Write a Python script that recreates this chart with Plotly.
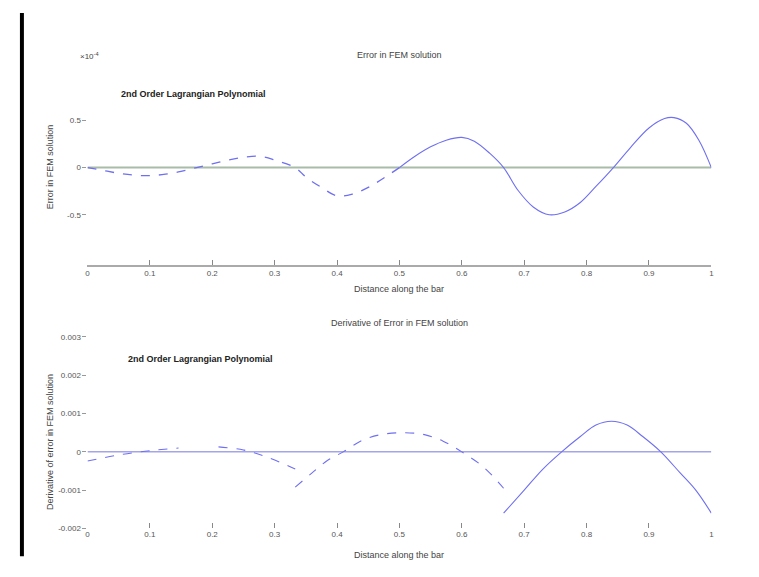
import plotly.graph_objects as go

# ---------------- data ----------------
x_ticks = [0, 0.1, 0.2, 0.3, 0.4, 0.5, 0.6, 0.7, 0.8, 0.9, 1]
x_tick_labels = ["0", "0.1", "0.2", "0.3", "0.4", "0.5", "0.6", "0.7", "0.8", "0.9", "1"]

top_y_ticks = [0.5, 0, -0.5]
top_y_labels = ["0.5", "0", "-0.5"]
bot_y_ticks = [0.003, 0.002, 0.001, 0, -0.001, -0.002]
bot_y_labels = ["0.003", "0.002", "0.001", "0", "-0.001", "-0.002"]

# error in FEM solution (x 1e-4)
err_x_a = [0, 0.025, 0.05, 0.075, 0.1, 0.125, 0.15, 0.175, 0.2, 0.225, 0.25, 0.275, 0.3,
           0.333, 0.35, 0.375, 0.4, 0.425, 0.45, 0.475, 0.5]
err_y_a = [0, -0.03, -0.06, -0.08, -0.085, -0.07, -0.04, 0.0, 0.04, 0.08, 0.11, 0.12, 0.08,
           0.0, -0.1, -0.21, -0.3, -0.28, -0.21, -0.11, 0.0]
err_x_b = [0.5, 0.525, 0.55, 0.575, 0.6, 0.62, 0.645, 0.667, 0.69, 0.715, 0.74, 0.765, 0.79,
           0.815, 0.843, 0.87, 0.9, 0.925, 0.94, 0.96, 0.98, 1.0]
err_y_b = [0.0, 0.12, 0.22, 0.29, 0.32, 0.28, 0.15, 0.0, -0.24, -0.42, -0.5, -0.47, -0.37,
           -0.2, 0.0, 0.21, 0.42, 0.52, 0.53, 0.47, 0.29, 0.0]
zero_x = [0, 1]
zero_y = [0, 0]

# derivative of error, per element segment
d1_x = [0, 0.05, 0.1, 0.146]
d1_y = [-0.00024, -0.00008, 0.00003, 0.0001]
d2_x = [0.21, 0.25, 0.29, 0.333]
d2_y = [0.00013, 0.00005, -0.00015, -0.00045]
d3_x = [0.333, 0.36, 0.385, 0.41, 0.44, 0.47, 0.505, 0.54, 0.57, 0.6, 0.635, 0.667]
d3_y = [-0.00092, -0.00055, -0.00022, 0.0, 0.0003, 0.00045, 0.0005, 0.00045, 0.00028, 0.0,
        -0.0004, -0.00095]
d4_x = [0.667, 0.7, 0.73, 0.76, 0.79, 0.815, 0.84, 0.865, 0.89, 0.919, 0.95, 0.975, 1.0]
d4_y = [-0.0016, -0.001, -0.00045, 0.0, 0.0004, 0.0007, 0.0008, 0.0007, 0.0004, 0.0, -0.00055,
        -0.001, -0.0016]

# ---------------- figure ----------------
W, H = 759, 577
BLUE = "#6f6ff0"
FONT = "Liberation Sans, Arial, sans-serif"

def px_x(p):
    return p / W

def px_y(p):
    return 1 - p / H

fig = go.Figure()

# top plot
fig.add_trace(go.Scatter(x=zero_x, y=zero_y, mode="lines", line=dict(color="#a8bca8", width=2),
                         xaxis="x", yaxis="y", showlegend=False))
fig.add_trace(go.Scatter(x=err_x_a, y=err_y_a, mode="lines", line=dict(color=BLUE, width=1.3, dash="dash", shape="spline"),
                         xaxis="x", yaxis="y", showlegend=False))
fig.add_trace(go.Scatter(x=err_x_b, y=err_y_b, mode="lines", line=dict(color=BLUE, width=1.1, shape="spline"),
                         xaxis="x", yaxis="y", showlegend=False))

# bottom plot
fig.add_trace(go.Scatter(x=zero_x, y=zero_y, mode="lines", line=dict(color="#a4a4e8", width=1.5),
                         xaxis="x2", yaxis="y2", showlegend=False))
for sx, sy, dash in [(d1_x, d1_y, "dash"), (d2_x, d2_y, "dash"), (d3_x, d3_y, "dash"), (d4_x, d4_y, "solid")]:
    fig.add_trace(go.Scatter(x=sx, y=sy, mode="lines", line=dict(color=BLUE, width=1.1, dash=dash, shape="spline"),
                             xaxis="x2", yaxis="y2", showlegend=False))

x_dom = [px_x(78), px_x(706)]
tick_font = dict(family=FONT, size=8, color="#555")

common_x = dict(range=[0, 1], tickvals=x_ticks, ticktext=x_tick_labels, ticks="inside", ticklen=5,
                tickcolor="#888", showgrid=False, zeroline=False, tickfont=tick_font, fixedrange=True)
common_y = dict(ticks="outside", ticklen=4, tickcolor="#999", showgrid=False, zeroline=False,
                showline=False, tickfont=tick_font)

fig.update_layout(
    width=W, height=H,
    margin=dict(l=0, r=0, t=0, b=0),
    paper_bgcolor="white", plot_bgcolor="white",
    xaxis=dict(domain=x_dom, anchor="y", showline=True, linecolor="#aaa", linewidth=1.5, **common_x),
    yaxis=dict(domain=[px_y(259), px_y(63)], range=[-1.03, 1.03], tickvals=top_y_ticks,
               ticktext=top_y_labels, anchor="x", **common_y),
    xaxis2=dict(domain=x_dom, anchor="y2", showline=False, **common_x),
    yaxis2=dict(domain=[px_y(525), px_y(328)], range=[-0.002, 0.0031], tickvals=bot_y_ticks,
                ticktext=bot_y_labels, anchor="x2", **common_y),
    shapes=[dict(type="rect", xref="paper", yref="paper", x0=px_x(10), x1=px_x(14),
                 y0=px_y(553), y1=px_y(5), fillcolor="black", line=dict(width=0))],
)

txt = dict(family=FONT, color="#444")
ann = [
    dict(text="Error in FEM solution", x=px_x(392), y=px_y(47), font=dict(size=9, **txt)),
    dict(text="×10<sup>-4</sup>", x=px_x(80), y=px_y(48), font=dict(size=8, **txt)),
    dict(text="<b>2nd Order Lagrangian Polynomial</b>", x=px_x(185), y=px_y(87), font=dict(size=9, family=FONT, color="#222")),
    dict(text="Distance along the bar", x=px_x(392), y=px_y(283), font=dict(size=9, **txt)),
    dict(text="Error in FEM solution", x=px_x(40), y=px_y(160), textangle=-90, font=dict(size=9, **txt)),
    dict(text="Derivative of Error in FEM solution", x=px_x(392), y=px_y(318), font=dict(size=9, **txt)),
    dict(text="<b>2nd Order Lagrangian Polynomial</b>", x=px_x(192), y=px_y(354), font=dict(size=9, family=FONT, color="#222")),
    dict(text="Distance along the bar", x=px_x(392), y=px_y(552), font=dict(size=9, **txt)),
    dict(text="Derivative of error in FEM solution", x=px_x(40), y=px_y(438), textangle=-90, font=dict(size=9, **txt)),
]
for a in ann:
    a.update(xref="paper", yref="paper", showarrow=False, xanchor="center", yanchor="middle")
fig.update_layout(annotations=ann)

fig.write_html("out.html")
